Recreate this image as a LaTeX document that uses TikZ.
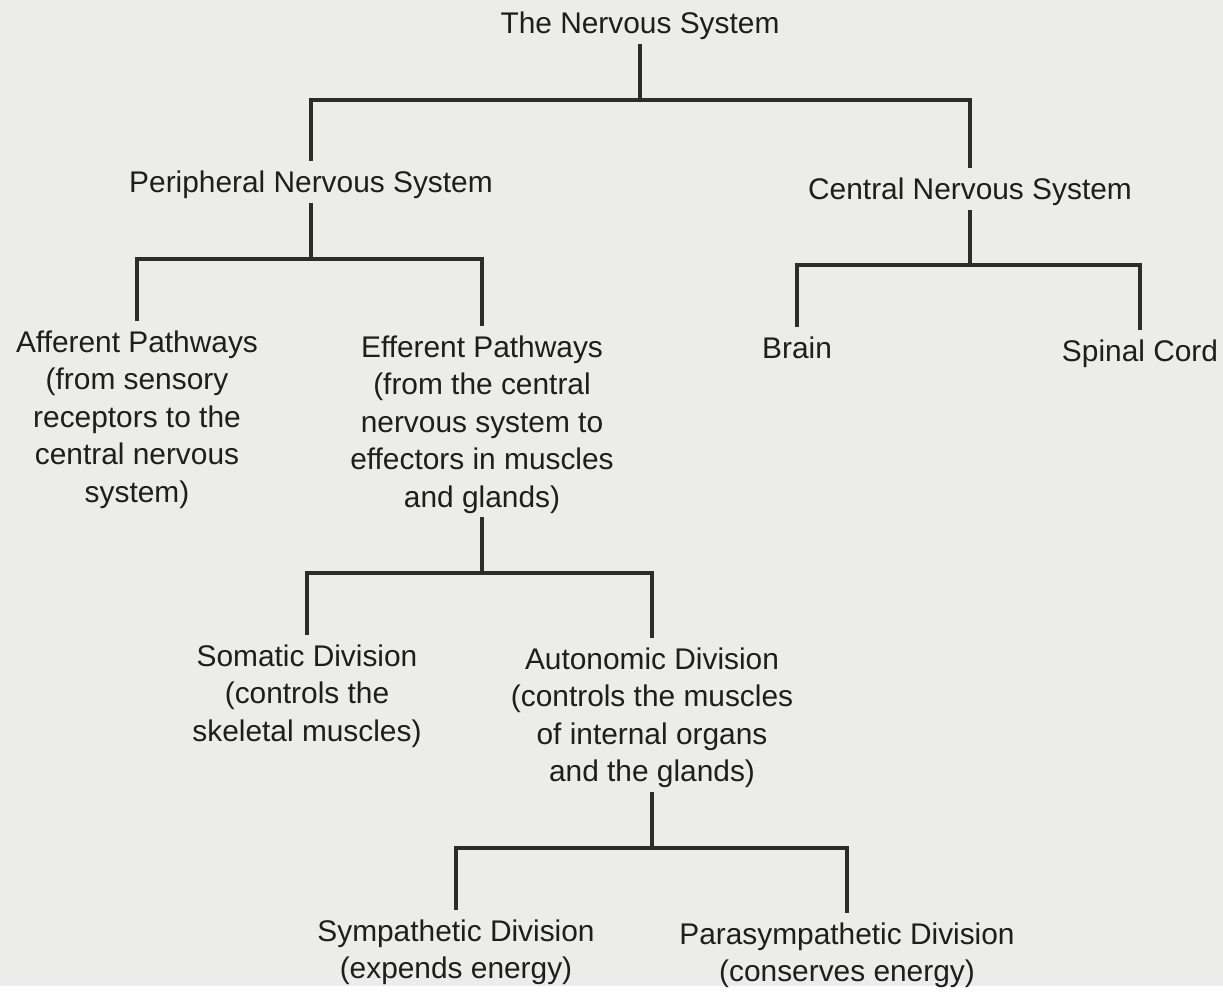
\documentclass[tikz,border=0pt]{standalone}
\usepackage{fontspec}
\setmainfont{Liberation Sans}
\definecolor{bggray}{RGB}{236,236,234}
\definecolor{inkgray}{RGB}{30,30,30}
\definecolor{linegray}{RGB}{44,44,44}
\begin{document}
\begin{tikzpicture}[x=0.02cm,y=-0.02cm,
  lbl/.style={anchor=north, align=center, text=inkgray, inner xsep=2pt, inner ysep=2pt,
    font=\fontsize{17pt}{21.3pt}\selectfont},
  tree/.style={draw=linegray, line width=1.9pt},
  drop/.style={tree, shorten <=3.5pt, shorten >=3.5pt}]
\fill[bggray] (0,0) rectangle (1223,986);
\node[lbl] (tns) at (640,8) {The Nervous System};
\node[lbl] (pns) at (311,167) {Peripheral Nervous System};
\node[lbl] (cns) at (970,174) {Central Nervous System};
\node[lbl] (aff) at (137,327) {Afferent Pathways\\(from sensory\\receptors to the\\central nervous\\system)};
\node[lbl] (eff) at (482,332) {Efferent Pathways\\(from the central\\nervous system to\\effectors in muscles\\and glands)};
\node[lbl] (brain) at (797,333) {Brain};
\node[lbl] (spinal) at (1140,336) {Spinal Cord};
\node[lbl] (som) at (307,641) {Somatic Division\\(controls the\\skeletal muscles)};
\node[lbl] (aut) at (652,644) {Autonomic Division\\(controls the muscles\\of internal organs\\and the glands)};
\node[lbl] (sym) at (456,916) {Sympathetic Division\\(expends energy)};
\node[lbl] (para) at (847,919) {Parasympathetic Division\\(conserves energy)};
\coordinate (b1) at (640,100);
\coordinate (b2) at (311,259);
\coordinate (b3) at (970,265);
\coordinate (b4) at (482,573);
\coordinate (b5) at (652,848);
\draw[tree] (tns.south) -- (b1);
\draw[drop] (pns.north) |- (b1) -| (cns.north);
\draw[tree] (pns.south) -- (b2);
\draw[drop] (aff.north) |- (b2) -| (eff.north);
\draw[tree] (cns.south) -- (b3);
\draw[drop] (brain.north) |- (b3) -| (spinal.north);
\draw[tree] (eff.south) -- (b4);
\draw[drop] (som.north) |- (b4) -| (aut.north);
\draw[tree] (aut.south) -- (b5);
\draw[drop] (sym.north) |- (b5) -| (para.north);
\end{tikzpicture}
\end{document}
